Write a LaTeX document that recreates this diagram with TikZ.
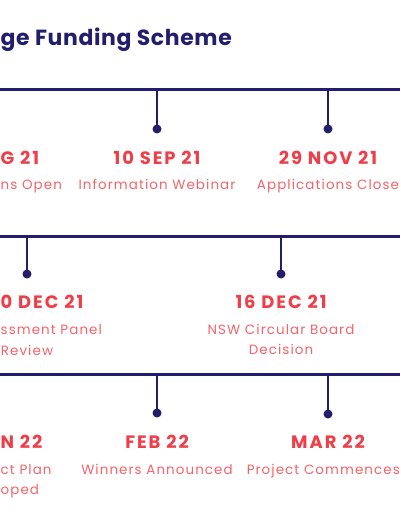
\documentclass[tikz,border=0pt]{standalone}
\usepackage{fontspec}
\setmainfont{Poppins}
\newfontfamily\datefont[LetterSpace=11]{Poppins}
\newfontfamily\descfont[LetterSpace=8]{Poppins}
\newfontfamily\titlefont[LetterSpace=3]{Poppins}
\definecolor{navy}{HTML}{221E6C}
\definecolor{datered}{HTML}{F03E48}
\definecolor{descred}{HTML}{F5636A}
\begin{document}
\begin{tikzpicture}[x=1bp,y=-1bp,
  tline/.style={line width=3bp, draw=navy},
  tickline/.style={line width=2.2bp, draw=navy},
  dotnode/.style={circle, fill=navy, inner sep=0pt, minimum size=9bp},
  datelbl/.style={font=\datefont\fontsize{18}{21}\selectfont\bfseries, text=datered, inner sep=0pt},
  desclbl/.style={font=\descfont\fontsize{13.5}{16}\selectfont, text=descred, inner sep=0pt},
  ]
\useasboundingbox (0,0) rectangle (400,516);
\clip (0,0) rectangle (400,516);
% title
\node[font=\titlefont\fontsize{22}{26}\selectfont\bfseries, text=navy, inner sep=0pt, anchor=base west] (title) at (0.5,46) {ge Funding Scheme};
% row 1
\coordinate (r1w) at (0,90); \coordinate (r1e) at (400,90);
\draw[tline] (r1w) -- (r1e);
\coordinate (t1b) at (157,90); \node[dotnode] (d1b) at (157,129) {};
\coordinate (t1c) at (328,90); \node[dotnode] (d1c) at (328,129) {};
\draw[tickline] (t1b) -- (d1b.center);
\draw[tickline] (t1c) -- (d1c.center);
\node[datelbl, anchor=base west] (date1a) at (0.5,165) {G 21};
\node[datelbl, anchor=base] (date1b) at (157,165) {10 SEP 21};
\node[datelbl, anchor=base] (date1c) at (328,165) {29 NOV 21};
\node[desclbl, anchor=base west] (desc1a) at (0.5,190) {ns Open};
\node[desclbl, anchor=base] (desc1b) at (157,190) {Information Webinar};
\node[desclbl, anchor=base] (desc1c) at (328,190) {Applications Close};
% row 2
\coordinate (r2w) at (0,236); \coordinate (r2e) at (400,236);
\draw[tline] (r2w) -- (r2e);
\coordinate (t2a) at (27,236); \node[dotnode] (d2a) at (27,274) {};
\coordinate (t2b) at (281,236); \node[dotnode] (d2b) at (281,274) {};
\draw[tickline] (t2a) -- (d2a.center);
\draw[tickline] (t2b) -- (d2b.center);
\node[datelbl, anchor=base west] (date2a) at (0.5,308) {0 DEC 21};
\node[datelbl, anchor=base] (date2b) at (281,308) {16 DEC 21};
\node[desclbl, anchor=base west] (desc2a) at (0.5,334) {ssment Panel};
\node[desclbl, anchor=base] (desc2a2) at (27,355) {Review};
\node[desclbl, anchor=base] (desc2b) at (281,334) {NSW Circular Board};
\node[desclbl, anchor=base] (desc2b2) at (281,354) {Decision};
% row 3
\coordinate (r3w) at (0,374); \coordinate (r3e) at (400,374);
\draw[tline] (r3w) -- (r3e);
\coordinate (t3b) at (157,374); \node[dotnode] (d3b) at (157,413) {};
\coordinate (t3c) at (328,374); \node[dotnode] (d3c) at (328,414) {};
\draw[tickline] (t3b) -- (d3b.center);
\draw[tickline] (t3c) -- (d3c.center);
\node[datelbl, anchor=base west] (date3a) at (0.5,448) {N 22};
\node[datelbl, anchor=base] (date3b) at (157,448) {FEB 22};
\node[datelbl, anchor=base] (date3c) at (328,448) {MAR 22};
\node[desclbl, anchor=base west] (desc3a) at (0.5,474) {ct Plan};
\node[desclbl, anchor=base west] (desc3a2) at (0.5,494) {oped};
\node[desclbl, anchor=base] (desc3b) at (157,474) {Winners Announced};
\node[desclbl, anchor=base east] (desc3c) at (400,474) {Project Commences};
\end{tikzpicture}
\end{document}
